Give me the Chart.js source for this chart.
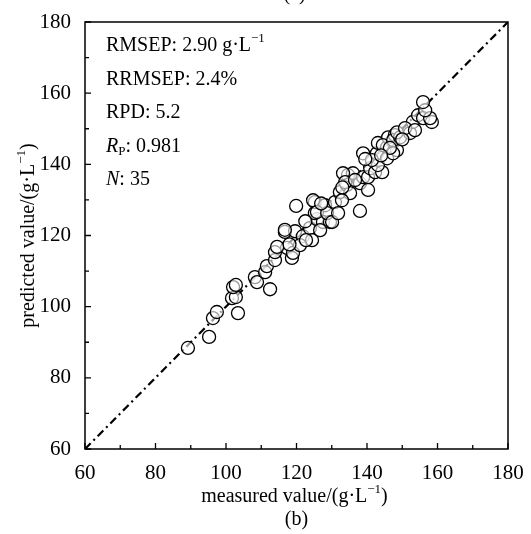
<!DOCTYPE html>
<html>
<head>
<meta charset="utf-8">
<script src="https://cdn.jsdelivr.net/npm/chart.js@4"></script>
<style>
	html, body { margin: 0; padding: 0; background: #fff; }
	#wrap { width: 531px; height: 534px; }
</style>
</head>
<body>
<div id="wrap"><canvas id="scatter-chart"></canvas></div>
<script>
// measured vs predicted (g/L)
const measured = [
	89.2, 95.2, 96.3, 97.4, 103.4, 101.7, 102.8, 102.0, 102.8, 112.5,
	108.2, 108.8, 111.1, 111.6, 113.9, 113.9, 117.3, 118.7, 119.0, 116.7,
	119.6, 121.8, 123.8, 124.4, 125.8, 125.2, 127.5, 129.5, 125.2, 128.1,
	130.9, 119.9, 132.3, 134.3, 134.6, 136.0, 133.2, 135.2, 138.0, 116.7,
	124.7, 125.8, 128.7, 130.1, 133.8, 138.0, 140.3, 138.9, 140.3, 140.9,
	142.3, 144.3, 143.1, 138.9, 142.8, 143.1, 145.7, 147.4, 146.0, 147.9,
	148.5, 145.7, 144.5, 147.4, 149.4, 148.5, 152.2, 153.0, 154.5, 155.9,
	158.4, 157.9, 156.5, 155.9, 147.4, 146.5, 121.0, 122.7, 126.7, 131.8,
	132.9, 136.6, 141.4, 150.8, 153.6, 122.5, 127.0, 133.0, 139.5, 144.0,
	150.0, 118.0, 114.5
];
const predicted = [
	88.4, 91.5, 96.8, 98.5, 98.2, 102.4, 102.7, 105.5, 106.1, 104.9,
	108.3, 106.9, 109.7, 111.4, 113.1, 115.3, 116.5, 113.7, 115.1, 121.0,
	121.2, 119.8, 122.1, 118.7, 124.6, 126.3, 123.8, 123.8, 129.4, 128.5,
	129.4, 128.3, 132.2, 134.2, 137.0, 137.5, 137.5, 131.9, 126.9, 121.6,
	129.9, 126.6, 126.3, 123.8, 135.0, 134.7, 132.8, 136.4, 136.4, 138.9,
	137.8, 137.8, 139.8, 143.1, 143.1, 146.0, 144.8, 146.2, 147.6, 148.2,
	144.0, 141.7, 145.4, 146.8, 147.6, 149.0, 148.8, 151.9, 153.8, 153.0,
	151.9, 153.0, 155.2, 157.5, 143.1, 144.6, 117.3, 118.7, 121.5, 126.3,
	129.9, 135.6, 141.2, 150.2, 149.6, 124.0, 129.0, 133.5, 141.5, 142.5,
	147.0, 117.5, 116.8
];
const refLine = [60, 180];
const axisMin = 60;
const axisMax = 180;
const statNames = ["RMSEP", "RRMSEP", "RPD", "R", "N"];
const statValues = ["2.90", "2.4%", "5.2", "0.981", "35"];

const serif = "'Liberation Serif', 'Times New Roman', serif";

const points = measured.map((m, i) => ({ x: m, y: predicted[i] }));

// draw text made of several runs (for superscripts/subscripts)
function drawRuns(ctx, x, y, runs) {
	let cx = x;
	runs.forEach(r => {
		ctx.font = r.font;
		ctx.fillText(r.text, cx, y + (r.dy || 0));
		cx += ctx.measureText(r.text).width;
	});
	return cx - x;
}

function runsWidth(ctx, runs) {
	let w = 0;
	runs.forEach(r => {
		ctx.font = r.font;
		w += ctx.measureText(r.text).width;
	});
	return w;
}

const F = "20px " + serif;
const FI = "italic 20px " + serif;
const FS = "13px " + serif;

const extras = {
	id: "extras",
	afterDatasetsDraw(chart) {
		const { ctx, chartArea: a, scales: { x, y } } = chart;
		ctx.save();
		ctx.strokeStyle = "#000";
		ctx.lineWidth = 1.5;
		ctx.strokeRect(a.left, a.top, a.right - a.left, a.bottom - a.top);

		// inward ticks
		ctx.lineWidth = 1.3;
		for (let v = axisMin; v <= axisMax; v += 10) {
			const len = v % 20 === 0 ? 6 : 4;
			const px = x.getPixelForValue(v);
			const py = y.getPixelForValue(v);
			ctx.beginPath();
			ctx.moveTo(px, a.bottom);
			ctx.lineTo(px, a.bottom - len);
			ctx.moveTo(a.left, py);
			ctx.lineTo(a.left + len, py);
			ctx.stroke();
		}

		// statistics text
		ctx.fillStyle = "#000";
		ctx.textBaseline = "middle";
		ctx.textAlign = "left";
		const lines = [
			[{ text: statNames[0] + ": " + statValues[0] + " g\u00b7L", font: F }, { text: "\u22121", font: FS, dy: -7 }],
			[{ text: statNames[1] + ": " + statValues[1], font: F }],
			[{ text: statNames[2] + ": " + statValues[2], font: F }],
			[{ text: statNames[3], font: FI }, { text: "P", font: FS, dy: 5 }, { text: ": " + statValues[3], font: F }],
			[{ text: statNames[4], font: FI }, { text: ": " + statValues[4], font: F }]
		];
		lines.forEach((runs, i) => drawRuns(ctx, a.left + 21, 46 + i * 33.5, runs));

		// axis titles
		const FT = "20px " + serif;
		const FTS = "13px " + serif;
		const xt = [{ text: "measured value/(g\u00b7L", font: FT }, { text: "\u22121", font: FTS, dy: -7 }, { text: ")", font: FT }];
		const xw = runsWidth(ctx, xt);
		drawRuns(ctx, (a.left + a.right) / 2 - xw / 2 - 2, 497, xt);

		const yt = [{ text: "predicted value/(g\u00b7L", font: FT }, { text: "\u22121", font: FTS, dy: -7 }, { text: ")", font: FT }];
		const yw = runsWidth(ctx, yt);
		ctx.save();
		ctx.translate(29, (a.top + a.bottom) / 2);
		ctx.rotate(-Math.PI / 2);
		drawRuns(ctx, -yw / 2, 0, yt);
		ctx.restore();

		// panel labels
		ctx.font = "20px " + serif;
		ctx.textAlign = "center";
		ctx.fillText("(b)", (a.left + a.right) / 2, 520);
		ctx.fillText("(a)", (a.left + a.right) / 2 - 2, -5);
		ctx.restore();
	}
};

const scatterContext = document.getElementById("scatter-chart").getContext("2d");
const scatterChart = new Chart(scatterContext, {
	type: "scatter",
	data: {
		datasets: [
			{
				label: "samples",
				data: points,
				pointRadius: 6.5,
				pointHoverRadius: 6.5,
				pointBorderWidth: 1.3,
				borderColor: "#000",
				backgroundColor: "rgba(255,255,255,0.6)",
				order: 1
			},
			{
				type: "line",
				label: "y = x",
				data: refLine.map(v => ({ x: v, y: v })),
				borderColor: "#000",
				borderWidth: 2.2,
				borderDash: [8, 4, 2, 4],
				pointRadius: 0,
				fill: false,
				order: 2
			}
		]
	},
	options: {
		responsive: true,
		maintainAspectRatio: false,
		animation: false,
		events: [],
		layout: {
			padding: { top: 22, right: 23, left: 0, bottom: 0 }
		},
		plugins: {
			legend: { display: false },
			tooltip: { enabled: false }
		},
		scales: {
			x: {
				type: "linear",
				min: axisMin,
				max: axisMax,
				grid: { display: false },
				border: { display: false },
				ticks: {
					stepSize: 20,
					padding: 4,
					maxRotation: 0,
					autoSkip: false,
					color: "#000",
					font: { family: serif, size: 21 }
				},
				afterFit(scale) { scale.height = 85; }
			},
			y: {
				type: "linear",
				min: axisMin,
				max: axisMax,
				grid: { display: false },
				border: { display: false },
				ticks: {
					stepSize: 20,
					padding: 6,
					autoSkip: false,
					color: "#000",
					font: { family: serif, size: 21 }
				},
				afterFit(scale) { scale.width = 85; }
			}
		}
	},
	plugins: [extras]
});
</script>
</body>
</html>
